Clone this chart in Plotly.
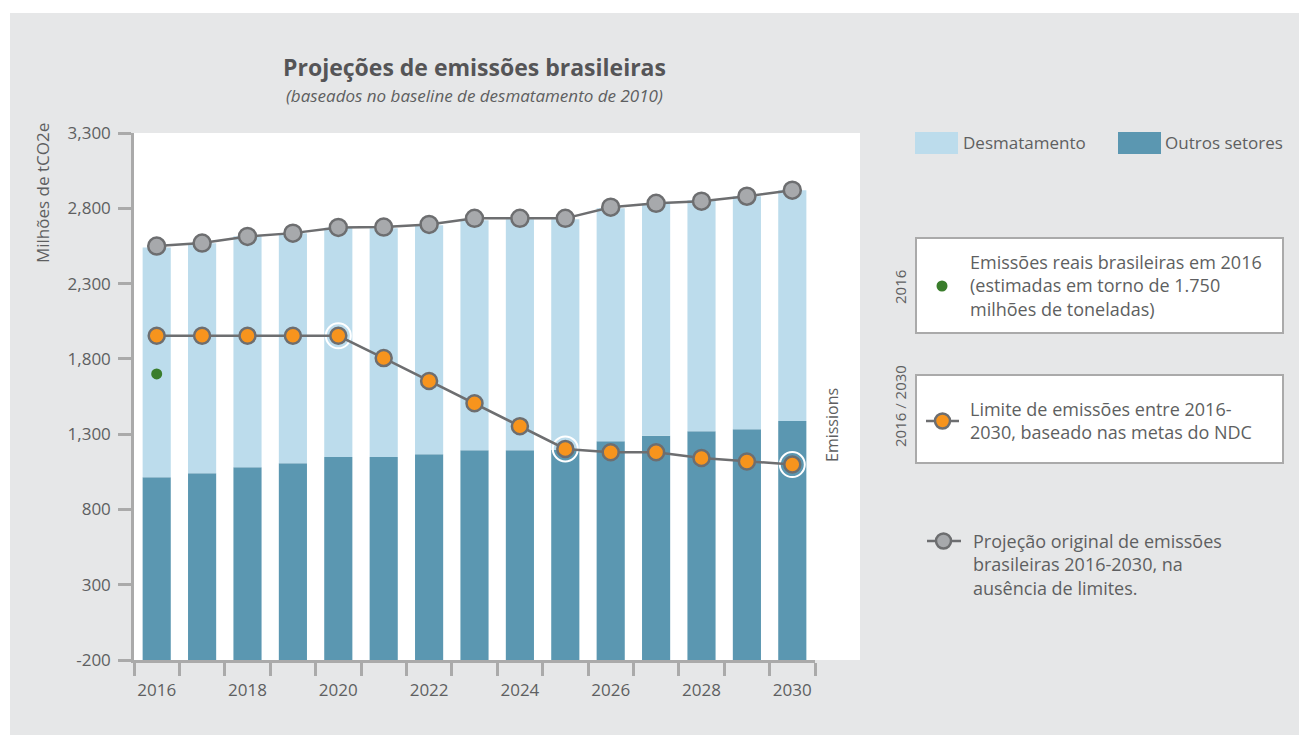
import plotly.graph_objects as go

years = list(range(2016, 2031))
outros = [1013, 1040, 1080, 1107, 1149, 1149, 1167, 1193, 1193, 1195, 1253, 1289, 1320, 1333, 1387]
total_bar = [2540, 2567, 2615, 2635, 2671, 2667, 2687, 2720, 2727, 2727, 2800, 2833, 2853, 2880, 2920]
desmat = [t - o for t, o in zip(total_bar, outros)]
projecao = [2549, 2569, 2613, 2635, 2673, 2675, 2693, 2733, 2733, 2733, 2807, 2833, 2847, 2880, 2920]
limite = [1953, 1953, 1953, 1953, 1953, 1805, 1653, 1505, 1353, 1202, 1180, 1180, 1142, 1118, 1098]
highlight_years = [2020, 2025, 2030]
real_2016 = 1700
y_ticks = [-200, 300, 800, 1300, 1800, 2300, 2800, 3300]
x_label_years = list(range(2016, 2031, 2))

BASE = -200
C_LIGHT = "#bcdcec"
C_DARK = "#5b97b1"
C_LINE = "#6d6e70"
C_GRAY = "#a7a9ac"
C_ORANGE = "#f7941d"
C_GREEN = "#3a7d2c"
C_TEXT = "#5e5f61"
FONT = "Open Sans"

# page body has an 8px margin; work in reference-pixel coordinates and shift
OFF = 8
W, H = 1307 - OFF, 735 - OFF
L, R, T, B = 134, 815, 133, 660   # reference pixels of plot area
def px(x):
    return (x - L) / (R - L)
def py(y):
    return (B - y) / (B - T)

fig = go.Figure()
fig.add_bar(x=years, y=[o - BASE for o in outros], base=BASE, marker_color=C_DARK,
            width=0.62, name="Outros setores", marker_line_width=0)
fig.add_bar(x=years, y=desmat, base=outros, marker_color=C_LIGHT,
            width=0.62, name="Desmatamento", marker_line_width=0)
fig.add_scatter(x=years, y=projecao, mode="lines+markers",
                line=dict(color=C_LINE, width=2.5),
                marker=dict(size=17, color=C_GRAY, line=dict(color=C_LINE, width=2.5)))
ring_y = [limite[years.index(yv)] for yv in highlight_years]
fig.add_scatter(x=highlight_years, y=ring_y, mode="markers",
                marker=dict(size=25, color="rgba(0,0,0,0)", line=dict(color="white", width=2)))
fig.add_scatter(x=years, y=limite, mode="lines+markers",
                line=dict(color=C_LINE, width=2.5),
                marker=dict(size=16, color=C_ORANGE, line=dict(color=C_LINE, width=2.5)))
fig.add_scatter(x=[2016], y=[real_2016], mode="markers",
                marker=dict(size=11, color=C_GREEN))

shapes = []
shapes.append(dict(type="rect", xref="paper", yref="paper", x0=px(10), x1=px(1306),
                   y0=py(13), y1=py(740), fillcolor="#e6e7e8", line_width=0, layer="below"))
shapes.append(dict(type="rect", xref="paper", yref="paper", x0=px(134), x1=px(860),
                   y0=py(133), y1=py(660), fillcolor="white", line_width=0, layer="below"))
shapes.append(dict(type="rect", xref="paper", yref="paper", x0=px(915), x1=px(958),
                   y0=py(154), y1=py(132), fillcolor=C_LIGHT, line_width=0))
shapes.append(dict(type="rect", xref="paper", yref="paper", x0=px(1118), x1=px(1161),
                   y0=py(154), y1=py(132), fillcolor=C_DARK, line_width=0))
for (y0, y1) in [(238, 333), (375, 463)]:
    shapes.append(dict(type="rect", xref="paper", yref="paper", x0=px(916), x1=px(1283),
                       y0=py(y1), y1=py(y0), fillcolor="white", line=dict(color="#aaaaaa", width=2)))
shapes.append(dict(type="circle", xref="paper", yref="paper", x0=px(936.5), x1=px(947.5),
                   y0=py(291.5), y1=py(280.5), fillcolor=C_GREEN, line_width=0))
shapes.append(dict(type="line", xref="paper", yref="paper", x0=px(926), x1=px(959),
                   y0=py(421), y1=py(421), line=dict(color=C_LINE, width=2.5)))
shapes.append(dict(type="circle", xref="paper", yref="paper", x0=px(935), x1=px(950),
                   y0=py(428.5), y1=py(413.5), fillcolor=C_ORANGE, line=dict(color=C_LINE, width=2.5)))
shapes.append(dict(type="line", xref="paper", yref="paper", x0=px(927), x1=px(961),
                   y0=py(541), y1=py(541), line=dict(color=C_LINE, width=2.5)))
shapes.append(dict(type="circle", xref="paper", yref="paper", x0=px(936), x1=px(951),
                   y0=py(548.5), y1=py(533.5), fillcolor=C_GRAY, line=dict(color=C_LINE, width=2.5)))

ann = []
def text(x, y, s, size=16, xanchor="left", angle=0, color=C_TEXT, yanchor="middle"):
    ann.append(dict(x=px(x), y=py(y), xref="paper", yref="paper", text=s, showarrow=False,
                    xanchor=xanchor, yanchor=yanchor, textangle=angle, align="left",
                    font=dict(family=FONT, size=size, color=color)))

text(474, 67, "<b>Projeções de emissões brasileiras</b>", size=23, xanchor="center", color="#555557")
text(474, 95, "<i>(baseados no baseline de desmatamento de 2010)</i>", size=17, xanchor="center")
text(42, 193, "Milhões de tCO2e", size=17, xanchor="center", angle=-90)
text(832, 425, "Emissions", size=16, xanchor="center", angle=-90)
text(961, 142, "Desmatamento", size=17)
text(1163, 142, "Outros setores", size=17)
text(968, 285, "Emissões reais brasileiras em 2016<br>(estimadas em torno de 1.750<br>milhões de toneladas)", size=18)
text(900, 287, "2016", size=15, xanchor="center", angle=-90)
text(968, 420, "Limite de emissões entre 2016-<br>2030, baseado nas metas do NDC", size=18)
text(900, 406, "2016 / 2030", size=15, xanchor="center", angle=-90)
text(971, 564, "Projeção original de emissões<br>brasileiras 2016-2030, na<br>ausência de limites.", size=18)

fig.update_layout(
    width=W, height=H, margin=dict(l=L - OFF, r=1307 - R, t=T - OFF, b=735 - B),
    paper_bgcolor="white", plot_bgcolor="rgba(0,0,0,0)",
    barmode="overlay", showlegend=False, shapes=shapes, annotations=ann,
    font=dict(family=FONT, color=C_TEXT),
)
fig.update_xaxes(range=[2015.5, 2030.5], tickmode="array", tickvals=x_label_years,
                 ticktext=[str(v) for v in x_label_years], ticks="outside", ticklen=13,
                 tickcolor="rgba(0,0,0,0)", showgrid=False, zeroline=False,
                 showline=True, linecolor="#aaaaaa", linewidth=2.5,
                 tickfont=dict(size=17, color=C_TEXT),
                 minor=dict(tickmode="array", tickvals=[y - 0.5 for y in years] + [2030.5],
                            ticks="outside", ticklen=13, tickcolor="#aaaaaa", tickwidth=2.5,
                            showgrid=False))
fig.update_yaxes(range=[-200, 3300], tickmode="array", tickvals=y_ticks,
                 ticktext=[f"{v:,}" for v in y_ticks], ticks="outside", ticklen=13,
                 tickcolor="#aaaaaa", tickwidth=2.5, showgrid=False, zeroline=False,
                 showline=True, linecolor="#aaaaaa", linewidth=2.5, ticklabelstandoff=4,
                 tickfont=dict(size=17, color=C_TEXT))

fig.write_html("out.html")
